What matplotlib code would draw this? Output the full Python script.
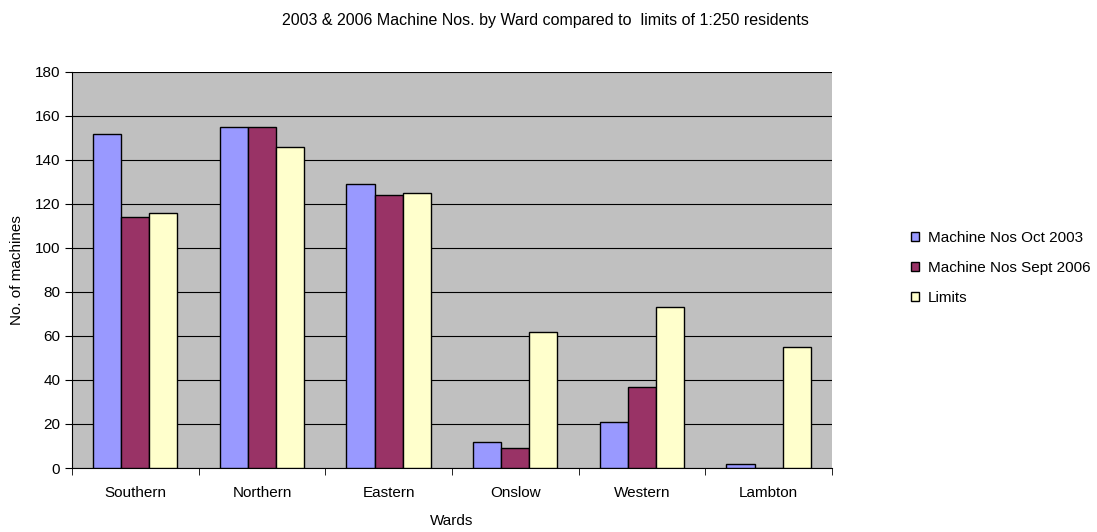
import matplotlib.pyplot as plt
import numpy as np

plt.rcParams['font.family'] = ['Liberation Sans', 'DejaVu Sans']

wards = ['Southern', 'Northern', 'Eastern', 'Onslow', 'Western', 'Lambton']
nos_2003 = [152, 155, 129, 12, 21, 2]
nos_2006 = [114, 155, 124, 9, 37, 0]
limits = [116, 146, 125, 62, 73, 55]

series = [('Machine Nos Oct 2003', nos_2003, '#9999FF'),
          ('Machine Nos Sept 2006', nos_2006, '#993366'),
          ('Limits', limits, '#FFFFCC')]

fig = plt.figure(figsize=(10.97, 5.32), dpi=100)
ax = fig.add_axes([0.0656, 0.1203, 0.6928, 0.7444])
ax.set_facecolor('#C0C0C0')

x = np.arange(len(wards))
w = 0.222
for i, (name, vals, col) in enumerate(series):
    ax.bar(x + (i - 1) * w, vals, w, color=col, edgecolor='black', linewidth=1, label=name, zorder=3)

ax.set_xlim(-0.5, len(wards) - 0.5)
ax.set_ylim(0, 180)
ax.set_yticks(range(0, 181, 20))
ax.yaxis.grid(True, color='black', linewidth=0.8, zorder=0)
ax.set_axisbelow(True)

ax.set_xticks(x)
ax.set_xticklabels(wards)
ax.set_xticks(np.arange(-0.5, len(wards) + 0.5, 1), minor=True)
ax.tick_params(axis='x', which='major', length=0, pad=13, labelsize=11)
ax.tick_params(axis='x', which='minor', length=5, color='black')
ax.tick_params(axis='y', length=5, labelsize=11)

for s in ['top', 'right']:
    ax.spines[s].set_visible(False)
ax.spines['left'].set_color('black')
ax.spines['bottom'].set_color('black')

ax.set_ylabel('No. of machines', fontsize=11, labelpad=8)
ax.set_xlabel('Wards', fontsize=11, labelpad=10)

fig.text(0.497, 0.962, '2003 & 2006 Machine Nos. by Ward compared to  limits of 1:250 residents',
         ha='center', va='center', fontsize=11.5)

fig.legend(loc='center left', bbox_to_anchor=(0.818, 0.496), frameon=False, fontsize=11,
           handlelength=0.5, handleheight=0.5, handletextpad=0.6, labelspacing=1.05)

fig.savefig('out.png', dpi=100)
